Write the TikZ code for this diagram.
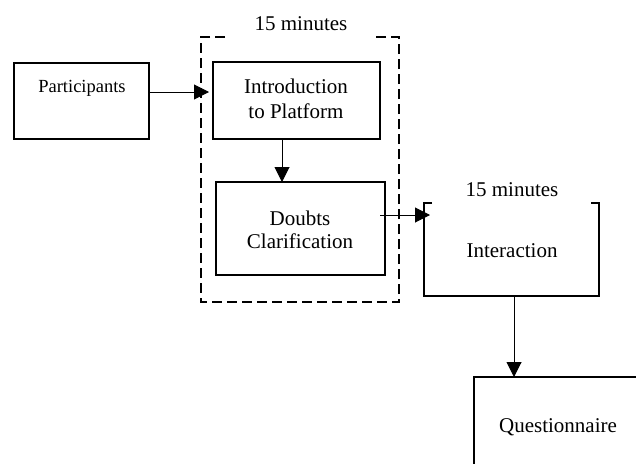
\documentclass[tikz,border=0pt]{standalone}
\usepackage{fontspec}
\setmainfont{Liberation Serif}
\usetikzlibrary{arrows.meta}
\begin{document}
\begin{tikzpicture}[x=1pt,y=-1pt,
  box/.style={draw,line width=2.6pt,inner sep=0pt,outer sep=0pt},
  ghost/.style={draw=none,inner sep=0pt,outer sep=0pt},
  txt/.style={inner sep=0pt,anchor=base,font=\fontsize{21}{25}\selectfont},
  smalltxt/.style={inner sep=0pt,anchor=base,font=\fontsize{18.5}{22}\selectfont},
  arr/.style={line width=1pt,-{Triangle[length=15pt,width=15pt]}},
  frameline/.style={line width=2.6pt,dash pattern=on 10pt off 5pt},
  bracket/.style={line width=2.6pt}]
\useasboundingbox (0,0) rectangle (636,463);
\clip (0,0) rectangle (636,463);
\fill[white] (0,0) rectangle (636,463);

% Participants
\node[box,minimum width=135pt,minimum height=76pt] (pbox) at (81.5,101) {};
\node[smalltxt] (ptext) at (82,92) {Participants};

% dashed frame
\node[ghost,minimum width=198pt,minimum height=265pt] (frame) at (300,169.5) {};
\draw[frameline] ([xshift=24pt]frame.north west) -- (frame.north west) -- (frame.south west)
  -- (frame.south east) -- (frame.north east) -- ([xshift=-24pt]frame.north east);
\node[txt] (flabel) at (301,30) {15 minutes};

% Introduction
\node[box,minimum width=167pt,minimum height=77pt] (ibox) at (296.5,100.5) {};
\node[txt] (itext1) at (296,93) {Introduction};
\node[txt] (itext2) at (296,118) {to Platform};

% Doubts
\node[box,minimum width=169pt,minimum height=93pt] (dbox) at (300.5,228.5) {};
\node[txt] (dtext1) at (300,225) {Doubts};
\node[txt] (dtext2) at (300,248) {Clarification};

% Interaction bracket
\node[ghost,minimum width=175pt,minimum height=93pt] (ibr) at (511.5,249.5) {};
\draw[bracket] ([xshift=8pt]ibr.north west) -- (ibr.north west) -- (ibr.south west)
  -- (ibr.south east) -- (ibr.north east) -- ([xshift=-8pt]ibr.north east);
\node[txt] (blabel) at (512,196) {15 minutes};
\node[txt] (btext) at (512,257) {Interaction};

% Questionnaire (runs off the page)
\node[box,minimum width=200pt,minimum height=120pt] (qbox) at (574,437) {};
\node[txt] (qtext) at (558,432) {Questionnaire};

% connectors
\coordinate (a1) at (ptext.base -| pbox.east);
\draw[arr,shorten >=4pt] ([yshift=0pt]a1) -- (a1 -| ibox.west);
\coordinate (a2) at ([xshift=-14.5pt]ibox.south);
\draw[arr] (a2) -- (a2 |- dbox.north);
\coordinate (a3) at ([xshift=-5pt,yshift=13.5pt]dbox.east);
\draw[arr,shorten >=-6pt] (a3) -- (a3 -| ibr.west);
\coordinate (a4) at ([xshift=2.5pt]ibr.south);
\draw[arr] (a4) -- (a4 |- qbox.north);
\end{tikzpicture}
\end{document}
